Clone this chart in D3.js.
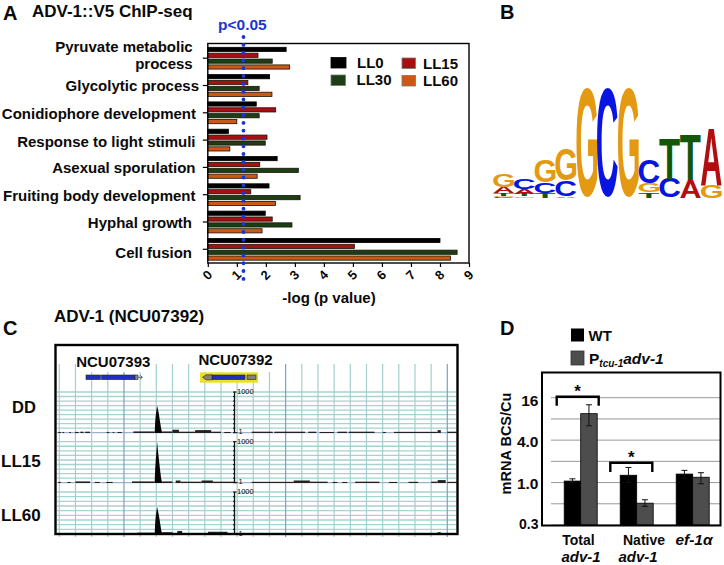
<!DOCTYPE html>
<html><head><meta charset="utf-8">
<script src="https://cdn.jsdelivr.net/npm/d3@7"></script>
<style>
html,body{margin:0;padding:0;background:#fff}
svg{display:block}
text{font-family:"Liberation Sans",Arial,sans-serif;font-weight:bold;fill:#0a0a0a}
</style></head><body>
<svg id="c" width="724" height="565"></svg>
<script>
// ---------- Panel A data
const goTerms = ["Pyruvate metabolic process","Glycolytic process","Conidiophore development","Response to light stimuli","Asexual sporulation","Fruiting body development","Hyphal growth","Cell fusion"];
const seriesNames = ["LL0","LL15","LL30","LL60"];
const LL0  = [2.70,2.13,1.67,0.71,2.39,2.11,1.98,8.00];
const LL15 = [1.73,1.38,2.34,2.04,1.79,1.48,2.22,5.05];
const LL30 = [2.22,1.77,1.77,1.98,3.12,3.18,2.90,8.59];
const LL60 = [2.82,2.21,1.00,0.76,1.70,2.33,1.87,8.36];
const seriesColors = ["#000000","#a80f10","#1c3e14","#cf5716"];
const xTicksA = [0,1,2,3,4,5,6,7,8,9];
const pThreshold = 1.23;

// ---------- Panel B data (bits, bottom to top)
const logoColumns = [
 [["C",.018],["G",.018],["T",.043],["A",.11],["G",.24]],
 [["G",.03],["T",.043],["A",.085],["C",.18]],
 [["T",.09],["C",.19],["G",.40]],
 [["A",.03],["C",.29],["G",.57]],
 [["G",2.0]],
 [["C",2.0]],
 [["G",2.0]],
 [["T",.10],["G",.17],["C",.44]],
 [["C",.35],["T",.74]],
 [["A",.32],["T",.84]],
 [["G",.24],["A",1.04]]
];
const logoColors = {G:"#e39a12",C:"#0a14e0",A:"#b20d10",T:"#14560a"};

// ---------- Panel C data (kb; signal on log scale)
const tracks = ["DD","LL15","LL60"];
const gridKb = d3.range(0,25);
const darkKb = [4,14,24];
const gridLevels = [1,2.15,4.6,10,21.5,46,100,215,464,1000];
const peakDD   = [[5.9,1],[5.93,6],[5.97,20],[6.01,45],[6.05,95],[6.09,60],[6.15,28],[6.22,8],[6.3,2],[6.36,1]];
const peakLL15 = [[5.9,1],[5.93,10],[5.97,50],[6.01,220],[6.05,950],[6.09,300],[6.15,70],[6.22,12],[6.3,2],[6.36,1]];
const peakLL60 = [[5.9,1],[5.93,6],[5.97,20],[6.01,42],[6.05,85],[6.09,55],[6.15,25],[6.22,8],[6.3,2],[6.36,1]];
const noiseDD = [[-.06,.1,1.1],[.2,.3,1.1],[.62,.72,1.1],[.97,1.2,1.1],[1.3,1.5,1.15],[1.6,1.9,1.15],[2.93,3.1,1.1],[3.3,3.4,1.1],[3.6,3.86,1.1],[4.58,5.9,1.2],[6.36,7.0,1.2],[7.0,7.4,1.6],[7.4,8.4,1.15],[8.4,9.4,1.5],[9.4,10.0,1.15],[10.2,10.6,1.1],[11.9,13.2,1.15],[13.3,15.2,1.15],[15.4,15.9,1.15],[16.1,17.0,1.1],[17.2,17.8,1.15],[17.9,19.5,1.15],[20.0,20.2,1.1],[20.7,23.4,1.12],[23.4,23.6,1.5],[24.0,24.6,1.15]];
const noiseLL15= [[-.06,.1,1.1],[.5,.7,1.1],[1.0,1.9,1.2],[2.2,2.5,1.1],[2.9,3.3,1.1],[4.5,5.9,1.2],[6.36,7.0,1.2],[7.2,7.5,1.4],[7.5,8.8,1.15],[8.8,9.5,1.4],[9.5,10.9,1.15],[11.9,14.5,1.12],[14.5,15.5,1.4],[15.5,16.6,1.15],[16.9,17.2,1.1],[17.5,17.8,1.1],[18.3,19.8,1.15],[20.4,20.9,1.1],[21.6,22.2,1.12],[23.0,23.4,1.15],[23.4,23.9,1.5],[24.0,24.6,1.12]];
const noiseLL60= [[4.8,5.9,1.2],[6.36,7.0,1.3],[7.3,7.6,1.6],[9.2,10.4,1.4],[23.4,23.6,1.3]];
const trackPeaks = [peakDD,peakLL15,peakLL60];
const trackNoise = [noiseDD,noiseLL15,noiseLL60];

// ---------- Panel D data
const dCats = ["Total","Native","ef-1a"];
const dWT  = [1.05,1.27,1.32];
const dMut = [9.5,0.51,1.19];
const dWTerr  = [[1.0,1.13],[1.0,1.64],[1.15,1.49]];
const dMutErr = [[6.4,12.7],[0.46,0.57],[0.96,1.38]];
const dGrid = [16,8,4,2,1,0.5,0.25];
const dTicks = [16,4,1,0.25];
const dTickLabels = ["16","4.0","1.0","0.3"];

const svg = d3.select("#c");
function txt(x,y,s,size,anchor,extra){
  const t = svg.append("text").attr("x",x).attr("y",y).attr("font-size",size).attr("text-anchor",anchor||"start").text(s);
  if(extra) extra(t);
  return t;
}
// Panel letters
txt(3,19.5,"A",20); txt(500,18.5,"B",20); txt(3,335,"C",20); txt(500,335,"D",20);

// ========== Panel A
const xA = d3.scaleLinear().domain([0,9]).range([207.8,469]);
const yA = d3.scaleBand().domain(goTerms).range([44.55,262.95]);
const subA = d3.scalePoint().domain(seriesNames).range([yA.bandwidth()/2-8.8,yA.bandwidth()/2+8.8]);
const seriesData = [LL0,LL15,LL30,LL60];
txt(32,17,"ADV-1::V5 ChIP-seq",17);
txt(218,30,"p<0.05",15.5,"start",t=>t.style("fill","#1a35d0"));
const gA = svg.append("g");
seriesNames.forEach((s,i)=>{
  gA.selectAll(null).data(goTerms).join("rect")
    .attr("x",xA(0)).attr("y",d=>yA(d)+subA(s)-2.1)
    .attr("width",(d,k)=>xA(seriesData[i][k])-xA(0)).attr("height",4.2)
    .attr("fill",seriesColors[i]).attr("stroke",i==0?"#000":"#1a1208").attr("stroke-width",.8);
});
// frame
svg.append("rect").attr("x",xA(0)).attr("y",43.5).attr("width",xA(9)-xA(0)).attr("height",219.5)
  .attr("fill","none").attr("stroke","#000").attr("stroke-width",1.4);
// axes
const axA = svg.append("g").attr("transform","translate(0,263)")
  .call(d3.axisBottom(xA).tickValues(xTicksA).tickSize(4).tickFormat(d3.format("d")));
axA.select(".domain").remove();
axA.selectAll("line").attr("stroke","#000").attr("stroke-width",1.2);
axA.selectAll("text").attr("transform","translate(-1,12) rotate(-45)").attr("y",0).attr("dy","0.35em").attr("x",0)
  .attr("text-anchor","middle").attr("font-size",13).attr("font-family","Liberation Sans").attr("font-weight","bold");
const ayA = svg.append("g").attr("transform",`translate(${xA(0)},0)`)
  .call(d3.axisLeft(yA).tickSize(5).tickFormat(""));
ayA.select(".domain").remove();
ayA.selectAll("line").attr("stroke","#000").attr("stroke-width",1.2);
// category labels
const catLabels = [[["Pyruvate metabolic",192.7,51.7],["process",192.7,69.3]],[["Glycolytic process",199,91]],[["Conidiophore development",196,118.7]],[["Response to light stimuli",195.5,147]],[["Asexual sporulation",195.5,173]],[["Fruiting body development",195.5,200.7]],[["Hyphal growth",192,228]],[["Cell fusion",192,258]]];
catLabels.flat().forEach(l=>txt(l[1],l[2],l[0],15,"end"));
// threshold
svg.append("line").attr("x1",xA(pThreshold)).attr("x2",xA(pThreshold)).attr("y1",37).attr("y2",279)
  .attr("stroke","#1a35d0").attr("stroke-width",3.8).attr("stroke-linecap","round").attr("stroke-dasharray","0.1 7.7");
txt(329,303,"-log (p value)",15,"middle");
// legend
const legA = [[331,57.5,15,10.5,357,67.5],[402,58,13.5,10.5,423,68.5],[331,75,14.5,10.5,356.5,85],[402,75.5,13.5,10.5,423,85.5]];
[0,1,2,3].forEach((si,k)=>{
  const l=legA[k];
  svg.append("rect").attr("x",l[0]).attr("y",l[1]).attr("width",l[2]).attr("height",l[3])
    .attr("fill",seriesColors[si]).attr("stroke",si==0?"#000":"#777").attr("stroke-width",.8);
  txt(l[4],l[5],seriesNames[si],15);
});

// ========== Panel B
const xB = d3.scaleBand().domain(d3.range(logoColumns.length)).range([493.3,721.7]);
const yB = d3.scaleLinear().domain([0,2]).range([197.7,88.3]);
const mc = document.createElement("canvas").getContext("2d");
mc.font = 'bold 100px "Liberation Sans"';
const gB = svg.append("g");
logoColumns.forEach((col,i)=>{
  let sum=0;
  col.forEach(([ch,bits])=>{
    const m = mc.measureText(ch);
    const w = m.actualBoundingBoxLeft+m.actualBoundingBoxRight;
    const h = m.actualBoundingBoxAscent+m.actualBoundingBoxDescent;
    const sx = xB.bandwidth()/w, sy=(yB(sum)-yB(sum+bits))/h;
    gB.append("text").attr("font-size",100).style("fill",logoColors[ch]).text(ch)
      .attr("transform",`translate(${xB(i)},${yB(sum)}) scale(${sx},${sy}) translate(${m.actualBoundingBoxLeft},${-m.actualBoundingBoxDescent})`);
    sum+=bits;
  });
});

// ========== Panel C
txt(54,322,"ADV-1 (NCU07392)",17);
const xC = d3.scaleLinear().domain([0,24]).range([59.3,447.3]);
const trackY = [[392,432.7],[441.7,482.7],[492,534]];
const yCs = trackY.map(t=>d3.scaleLog().domain([1,1000]).range([t[1],t[0]]));
const gC = svg.append("g");
yCs.forEach(y=>{
  gC.selectAll(null).data(gridLevels).join("line")
    .attr("x1",57).attr("x2",456).attr("y1",d=>y(d)).attr("y2",d=>y(d))
    .attr("stroke",(d,i)=>i==0?"#7f9fc4":"#a6d2d0").attr("stroke-width",(d,i)=>i==0?1:1.3);
});
gC.selectAll(null).data(gridKb).join("line")
  .attr("x1",d=>xC(d)).attr("x2",d=>xC(d))
  .attr("y1",d=>{const x=xC(d);return (x>80&&x<150)||(x>195&&x<275)?372:364;}).attr("y2",537)
  .attr("stroke",d=>darkKb.includes(d)?"#7f9fc4":"#a3d0ce").attr("stroke-width",1.2);
// signal
const area = (y)=>d3.area().x(d=>xC(d[0])).y0(y(1)+.4).y1(d=>y(d[1]));
yCs.forEach((y,i)=>{
  const base=y(1);
  gC.selectAll(null).data(trackNoise[i]).join("rect")
    .attr("x",d=>xC(d[0])).attr("width",d=>xC(d[1])-xC(d[0]))
    .attr("y",d=>y(d[2])-.2).attr("height",d=>base-y(d[2])+.5).attr("fill","#222");
  gC.append("path").datum(trackPeaks[i]).attr("d",area(y)).attr("fill","#050505");
  // coverage axis
  const ax = gC.append("g").attr("transform","translate(234.5,0)");
  ax.append("line").attr("y1",y(1000)).attr("y2",y(1)).attr("stroke","#111").attr("stroke-width",1.3);
  ax.selectAll(null).data(gridLevels).join("line").attr("x1",-1.5).attr("x2",0.5).attr("y1",d=>y(d)).attr("y2",d=>y(d)).attr("stroke","#111");
  ax.append("line").attr("x1",0).attr("x2",2).attr("y1",y(1000)).attr("y2",y(1000)).attr("stroke","#111");
  ax.append("line").attr("x1",0).attr("x2",3).attr("y1",y(1)).attr("y2",y(1)).attr("stroke","#111");
  ax.append("text").attr("x",2.5).attr("y",y(1000)+2).attr("font-size",7.5).style("font-weight","normal").text("1000");
  ax.append("text").attr("x",4).attr("y",y(1)+1.5).attr("font-size",7.5).style("font-weight","normal").text("1");
});
// gene models
txt(113.3,367,"NCU07393",15,"middle");
txt(235.5,365,"NCU07392",15,"middle");
svg.append("rect").attr("x",200).attr("y",372.3).attr("width",58).attr("height",10.4).attr("fill","#ecdf2a");
const genes = [
 [86,100.5,"#1f2fbf"],[101.5,135,"#1f2fbf"],[135,138,"#8a8a8a"],
 [212,245,"#1f2fbf"],[247,256,"#808080"]
];
svg.selectAll(null).data(genes).join("rect").attr("x",d=>d[0]).attr("y",375).attr("width",d=>d[1]-d[0]).attr("height",4.6)
  .attr("fill",d=>d[2]).attr("stroke","#222").attr("stroke-width",.6);
svg.append("path").attr("d","M202.5,377.3 L206,374.8 L212,374.8 L212,379.8 L206,379.8 Z").attr("fill","#808080").attr("stroke","#222").attr("stroke-width",.6);
svg.append("path").attr("d","M138,377.3 H142 M140,375.3 L142.5,377.3 L140,379.3").attr("fill","none").attr("stroke","#333").attr("stroke-width",.7);
// frame
svg.append("rect").attr("x",55.5).attr("y",345).attr("width",402).attr("height",189).attr("fill","none").attr("stroke","#000").attr("stroke-width",2.4);
txt(12,413,"DD",16.5); txt(1,466.7,"LL15",17); txt(1,520.7,"LL60",17);

// ========== Panel D
const yD = d3.scaleLog().base(2).domain([0.25,16]).range([525,397.7]);
const xD = d3.scalePoint().domain(dCats).range([580.7,692.7]);
const barW = 16.5;
svg.selectAll(null).data(dGrid).join("line").attr("x1",551).attr("x2",720).attr("y1",d=>yD(d)).attr("y2",d=>yD(d))
  .attr("stroke","#999").attr("stroke-width",1);
const gD = svg.append("g");
[[dWT,dWTerr,"#000",-1],[dMut,dMutErr,"#4d4d4d",0]].forEach(([vals,errs,col,off])=>{
  gD.selectAll(null).data(dCats).join("rect")
    .attr("x",d=>xD(d)+off*barW).attr("width",barW)
    .attr("y",(d,i)=>yD(vals[i])).attr("height",(d,i)=>yD(0.25)-yD(vals[i]))
    .attr("fill",col).attr("stroke","#000").attr("stroke-width",.8);
  dCats.forEach((c,i)=>{
    const cx=xD(c)+(off+.5)*barW, e=errs[i];
    gD.append("path").attr("d",`M${cx-3},${yD(e[1])}H${cx+3}M${cx},${yD(e[1])}V${yD(e[0])}M${cx-3},${yD(e[0])}H${cx+3}`)
      .attr("fill","none").attr("stroke","#111").attr("stroke-width",1);
  });
});
svg.append("rect").attr("x",542).attr("y",372.5).attr("width",178.5).attr("height",153).attr("fill","none").attr("stroke","#000").attr("stroke-width",2);
dTicks.forEach((t,i)=>txt(538.5,(i==3?yD(t)+4:yD(t)+8.5-i*1.2),dTickLabels[i],i==3?14:15.5,"end"));
svg.append("text").attr("transform","translate(511,443.5) rotate(-90)").attr("text-anchor","middle").attr("font-size",14.5).text("mRNA BCS/Cu");
// brackets and stars
[[556.7,598.7,396.7,405.7,577.5,397],[610.3,652.3,462.7,472,631.3,462.5]].forEach(b=>{
  svg.append("path").attr("d",`M${b[0]},${b[3]}V${b[2]}H${b[1]}V${b[3]}`).attr("fill","none").attr("stroke","#000").attr("stroke-width",2.4);
  txt(b[4],b[5],"*",17,"middle");
});
// legend
svg.append("rect").attr("x",571).attr("y",328.5).attr("width",13).attr("height",13).attr("fill","#000");
svg.append("rect").attr("x",571).attr("y",351).attr("width",13).attr("height",14).attr("fill","#4d4d4d").attr("stroke","#333").attr("stroke-width",.8);
txt(588.5,341,"WT",15);
const pt = txt(589,364,"P",15.5);
pt.append("tspan").attr("font-size",10).attr("font-style","italic").attr("dy",2.5).text("tcu-1");
pt.append("tspan").attr("font-style","italic").attr("dy",-2.5).text("adv-1");
// x labels
txt(578.5,545,"Total",14,"middle");
txt(581,562,"adv-1",15,"middle",t=>t.attr("font-style","italic"));
txt(644,545,"Native",14,"middle");
txt(638,562,"adv-1",15,"middle",t=>t.attr("font-style","italic"));
txt(694,545,"ef-1α",15.5,"middle",t=>t.attr("font-style","italic"));
</script>
</body></html>
